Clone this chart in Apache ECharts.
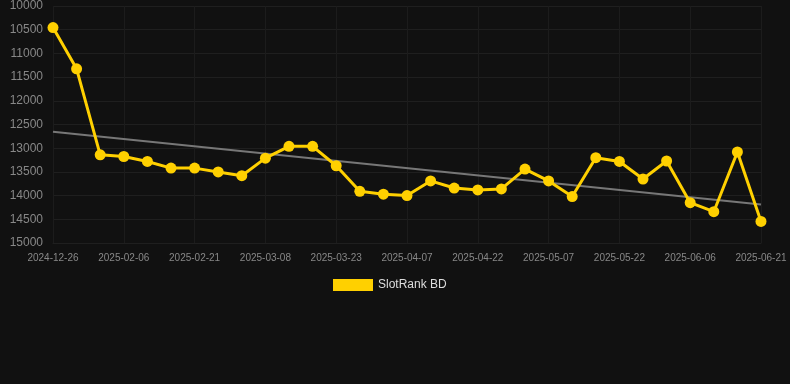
<!DOCTYPE html>
<html>
<head>
<meta charset="utf-8">
<script src="https://cdn.jsdelivr.net/npm/echarts@6/dist/echarts.min.js"></script>
<style>
  html, body { margin: 0; padding: 0; background: #111111; }
  #chart { width: 790px; height: 384px; }
</style>
</head>
<body>
<div id="chart"></div>
<script>
// categories (weekly-ish snapshots), labels shown every 3rd
var dates = [
  '2024-12-26', '2025-01-10', '2025-01-25', '2025-02-06', '2025-02-11', '2025-02-16',
  '2025-02-21', '2025-02-26', '2025-03-03', '2025-03-08', '2025-03-13', '2025-03-18',
  '2025-03-23', '2025-03-28', '2025-04-02', '2025-04-07', '2025-04-12', '2025-04-17',
  '2025-04-22', '2025-04-27', '2025-05-02', '2025-05-07', '2025-05-12', '2025-05-17',
  '2025-05-22', '2025-05-27', '2025-06-01', '2025-06-06', '2025-06-11', '2025-06-16',
  '2025-06-21'
];
// rank values
var rankBD = [
  10455, 11325, 13140, 13175, 13280, 13420,
  13420, 13500, 13580, 13210, 12960, 12960,
  13370, 13910, 13970, 14000, 13690, 13840,
  13880, 13860, 13440, 13690, 14020, 13200,
  13280, 13650, 13270, 14150, 14340, 13080,
  14545
];
// trend line end points (first and last category)
var trendValues = [12655, 14186];

var chart = echarts.init(document.getElementById('chart'));

var option = {
  backgroundColor: '#111111',
  animation: false,
  grid: {
    left: 53,
    right: 29,
    top: 6,
    bottom: 141
  },
  legend: {
    data: ['SlotRank BD'],
    top: 274,
    left: 328,
    itemWidth: 40,
    itemHeight: 12,
    icon: 'rect',
    textStyle: { color: '#dddddd', fontSize: 12 }
  },
  xAxis: {
    type: 'category',
    data: dates,
    boundaryGap: false,
    axisLine: { show: true, lineStyle: { color: '#1f1f1f' } },
    axisTick: { show: false },
    axisLabel: { interval: 2, color: '#888888', fontSize: 10, margin: 10 },
    splitLine: { show: true, interval: 2, lineStyle: { color: '#1c1c1c' } }
  },
  yAxis: {
    type: 'value',
    inverse: true,
    min: 10000,
    max: 15000,
    interval: 500,
    axisLine: { show: false },
    axisTick: { show: false },
    axisLabel: {
      color: '#888888',
      fontSize: 12,
      margin: 10,
      formatter: function (val) { return String(val); }
    },
    splitLine: { lineStyle: { color: '#1f1f1f' } }
  },
  series: [
    {
      name: 'SlotRank BD',
      type: 'line',
      data: rankBD,
      color: '#FFD000',
      lineStyle: { width: 3, color: '#FFD000' },
      symbol: 'circle',
      symbolSize: 11,
      itemStyle: { color: '#FFD000' },
      z: 3
    },
    {
      name: 'trend',
      type: 'line',
      data: [[dates[0], trendValues[0]], [dates[dates.length - 1], trendValues[1]]],
      symbol: 'none',
      lineStyle: { width: 2, color: '#777777' },
      z: 2
    }
  ]
};

chart.setOption(option);
window.addEventListener('resize', function () {
  chart.resize();
});
</script>
</body>
</html>
